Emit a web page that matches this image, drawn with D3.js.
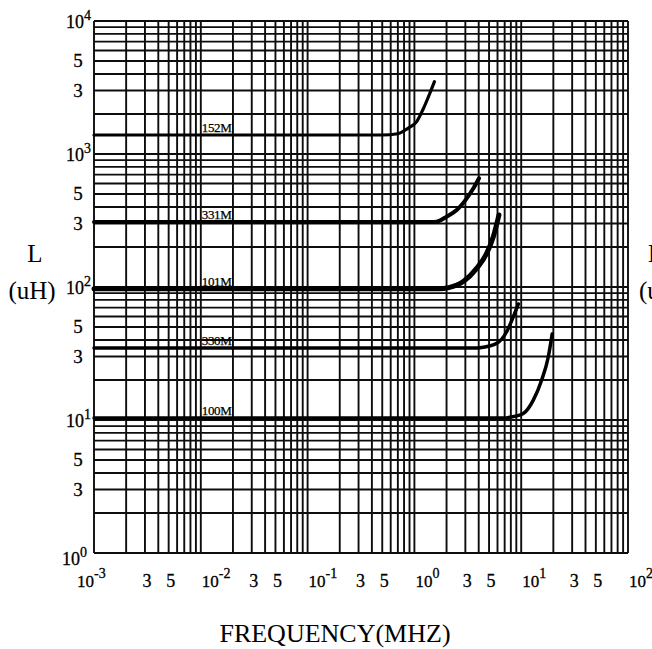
<!DOCTYPE html>
<html>
<head>
<meta charset="utf-8">
<script src="https://cdn.jsdelivr.net/npm/d3@7"></script>
<style>
  body { margin: 0; background: #fff; }
  svg { display: block; font-family: "Liberation Serif", "DejaVu Serif", serif; }
</style>
</head>
<body>
<div id="chart"></div>
<script>
// frequency decades (MHz) and inductance decades (uH)
var freqDecades = [1e-3, 1e-2, 1e-1, 1, 10, 100];
var indDecades = [1, 10, 100, 1000, 10000];
var minorLabelMults = [3, 5];

// curves: [frequency MHz, inductance uH]
var seriesNames = ["152M", "331M", "101M", "330M", "100M"];
var curve152M = [[0.001, 1390], [0.5, 1390], [0.7, 1420], [0.87, 1560], [1.05, 1750], [1.2, 2150], [1.4, 2880], [1.54, 3500]];
var curve331M = [[0.001, 308], [1.4, 308], [1.62, 310], [2.0, 338], [2.49, 379], [3.09, 464], [3.57, 552], [4.03, 657]];
var curve101M = [[0.001, 97], [1.7, 97], [2.1, 99], [2.87, 110], [3.83, 138], [4.75, 179], [5.48, 239], [6.19, 348]];
var curve330M = [[0.001, 34.8], [3.6, 34.8], [4.11, 35], [5.89, 37.7], [7.31, 46.1], [8.44, 59.8], [9.4, 74.5]];
var curve100M = [[0.001, 10.35], [7.0, 10.35], [7.85, 10.5], [10.47, 11.2], [12.98, 14.1], [15.55, 20], [17.95, 29.9], [19.5, 44.3]];
var curves = [curve152M, curve331M, curve101M, curve330M, curve100M];
var curveWidths = [3.2, 4, 5, 3.5, 3.5];

var width = 652,
  height = 649;

var x = d3.scaleLog().domain([1e-3, 1e2]).range([94, 628]);
var y = d3.scaleLog().domain([1, 1e4]).range([553, 21]);

var svg = d3
  .select("#chart")
  .append("svg")
  .attr("width", width)
  .attr("height", height);

svg.append("rect").attr("width", width).attr("height", height).attr("fill", "#fff");

// full log grid: 1..9 in every decade
function gridValues(decades) {
  var vals = [];
  decades.slice(0, -1).forEach(function (d) {
    for (var m = 1; m < 10; m++) vals.push(d * m);
  });
  vals.push(decades[decades.length - 1]);
  return vals;
}

var grid = svg.append("g").attr("stroke", "#0d0d0d").attr("stroke-width", 1.9);

grid
  .selectAll(".vgrid")
  .data(gridValues(freqDecades))
  .enter()
  .append("line")
  .attr("x1", function (d) { return x(d); })
  .attr("x2", function (d) { return x(d); })
  .attr("y1", y(1e4))
  .attr("y2", y(1));

grid
  .selectAll(".hgrid")
  .data(gridValues(indDecades))
  .enter()
  .append("line")
  .attr("x1", x(1e-3))
  .attr("x2", x(1e2))
  .attr("y1", function (d) { return y(d); })
  .attr("y2", function (d) { return y(d); });

// curves
var line = d3
  .line()
  .x(function (d) { return x(d[0]); })
  .y(function (d) { return y(d[1]); })
  .curve(d3.curveMonotoneX);

svg
  .selectAll(".curve")
  .data(curves)
  .enter()
  .append("path")
  .attr("d", line)
  .attr("fill", "none")
  .attr("stroke", "#000")
  .attr("stroke-linecap", "round")
  .attr("stroke-width", function (d, i) { return curveWidths[i]; });

svg
  .selectAll(".curve-label")
  .data(curves)
  .enter()
  .append("text")
  .attr("x", x(1e-2) + 1)
  .attr("y", function (d) { return y(d[0][1]) - 3; })
  .attr("font-size", 13)
  .attr("stroke", "#000")
  .attr("stroke-width", 0.25)
  .attr("textLength", 30)
  .text(function (d, i) { return seriesNames[i]; });

// y tick labels
var yLab = svg.append("g").attr("fill", "#000").attr("stroke", "#000").attr("stroke-width", 0.3);
indDecades.forEach(function (d, i) {
  var isBottom = i === 0;
  var t = yLab
    .append("text")
    .attr("x", isBottom ? 62 : 66)
    .attr("y", y(d) + (isBottom ? 12 : 7))
    .attr("font-size", 18);
  t.append("tspan").text("10");
  t.append("tspan").attr("font-size", 14).attr("dy", -8).text(Math.round(Math.log10(d)));
});
indDecades.slice(0, -1).forEach(function (d) {
  minorLabelMults.forEach(function (m) {
    yLab
      .append("text")
      .attr("x", 78)
      .attr("y", y(d * m) + 6)
      .attr("text-anchor", "middle")
      .attr("font-size", 19)
      .text(m);
  });
});

// x tick labels
var xLab = svg.append("g").attr("fill", "#000").attr("stroke", "#000").attr("stroke-width", 0.3);
freqDecades.forEach(function (d, i) {
  var e = Math.round(Math.log10(d));
  var t = xLab
    .append("text")
    .attr("x", x(d) + (i === 0 ? -17 : 1))
    .attr("y", 587)
    .attr("font-size", 17);
  t.append("tspan").text("10");
  t.append("tspan")
    .attr("font-size", 14)
    .attr("dy", -9)
    .text(e < 0 ? "-" + -e : e);
});
freqDecades.slice(0, -1).forEach(function (d) {
  minorLabelMults.forEach(function (m) {
    xLab
      .append("text")
      .attr("x", x(d * m) + 2)
      .attr("y", 587)
      .attr("text-anchor", "middle")
      .attr("font-size", 18)
      .text(m);
  });
});

// axis titles
svg
  .append("text")
  .attr("x", 335)
  .attr("y", 642)
  .attr("text-anchor", "middle")
  .attr("font-size", 26)
  .text("FREQUENCY(MHZ)");

svg.append("text").attr("x", 35).attr("y", 262).attr("text-anchor", "middle").attr("font-size", 25).text("L");
svg.append("text").attr("x", 32).attr("y", 299).attr("text-anchor", "middle").attr("font-size", 25).text("(uH)");

// edge of the neighbouring chart's axis title, cut by the frame
svg.append("text").attr("x", 648).attr("y", 262).attr("font-size", 25).text("L");
svg.append("text").attr("x", 639).attr("y", 299).attr("font-size", 25).text("(uH)");
</script>
</body>
</html>
